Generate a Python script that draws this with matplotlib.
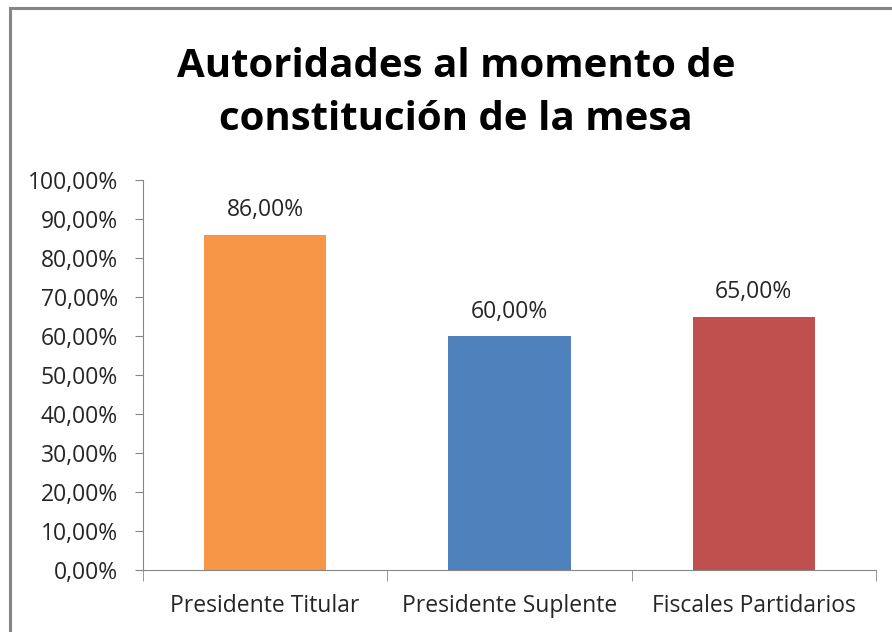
import matplotlib.pyplot as plt
from matplotlib.lines import Line2D

categories = ["Presidente Titular", "Presidente Suplente", "Fiscales Partidarios"]
values = [86.0, 60.0, 65.0]
colors = ["#F79646", "#4F81BD", "#C0504D"]
yticks = [0, 10, 20, 30, 40, 50, 60, 70, 80, 90, 100]

plt.rcParams['font.family'] = ['Open Sans', 'DejaVu Sans']

fig = plt.figure(figsize=(8.92, 6.32), dpi=100)
ax = fig.add_axes([143 / 892, 1 - 570 / 632, 733 / 892, 390 / 632])

x = list(range(len(categories)))
ax.bar(x, values, width=0.5, color=colors, zorder=2)

for xi, v in zip(x, values):
    ax.annotate(("%.2f%%" % v).replace(".", ","), (xi, v), xytext=(0, 9),
                textcoords="offset points", ha="center", va="bottom",
                fontsize=16.5, color="#262626")

ax.set_xlim(-0.5, len(categories) - 0.5)
ax.set_ylim(0, 100)
ax.set_yticks(yticks)
ax.set_yticklabels([("%.2f%%" % t).replace(".", ",") for t in yticks],
                   fontsize=16.5, color="#262626")
ax.set_xticks(x)
ax.set_xticklabels(categories, fontsize=16.5, color="#262626")
ax.tick_params(axis="x", length=0, pad=17)
ax.tick_params(axis="y", length=6, color="#868686", pad=12)

# category separator ticks on x axis
ax.set_xticks([-0.5, 0.5, 1.5, 2.5], minor=True)
ax.tick_params(axis="x", which="minor", length=8, color="#868686")

for s in ["top", "right"]:
    ax.spines[s].set_visible(False)
for s in ["left", "bottom"]:
    ax.spines[s].set_color("#868686")

fig.text(456 / 892, 1 - 93 / 632, "Autoridades al momento de\nconstitución de la mesa",
         ha="center", va="center", fontsize=29, fontweight="bold",
         linespacing=1.47, color="black")

# outer chart border (only top and left visible in the crop)
fig.add_artist(Line2D([10 / 892, 10 / 892], [0, 1 - 8 / 632], transform=fig.transFigure,
                      color="#868686", lw=2.2))
fig.add_artist(Line2D([10 / 892, 1], [1 - 8 / 632, 1 - 8 / 632], transform=fig.transFigure,
                      color="#868686", lw=2.2))

fig.savefig("out.png", dpi=100)
